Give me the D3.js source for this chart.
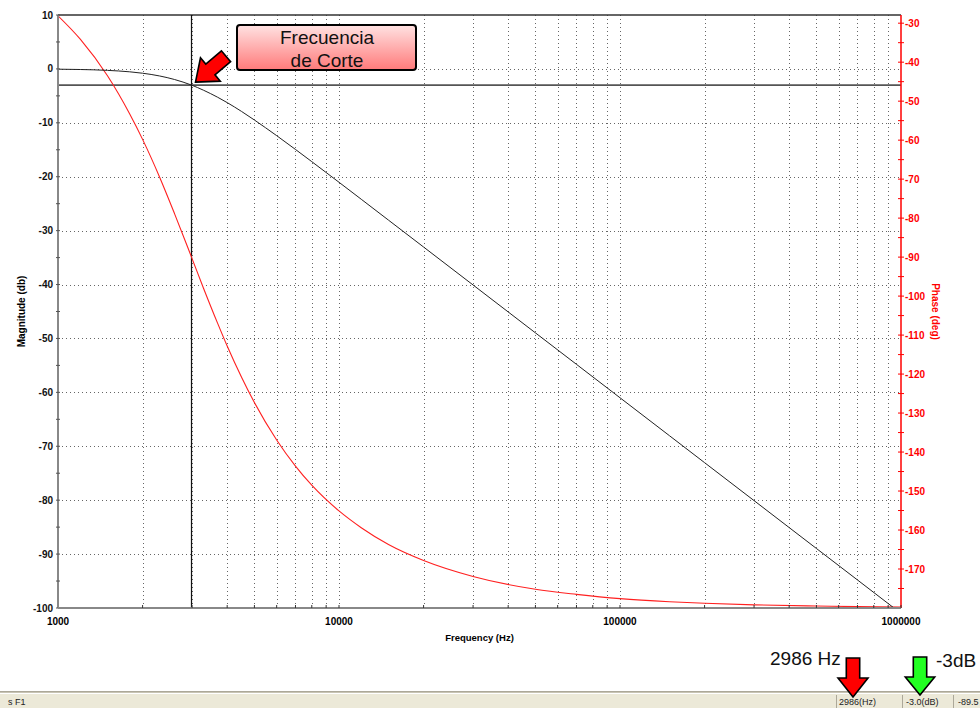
<!DOCTYPE html>
<html>
<head>
<meta charset="utf-8">
<script src="https://cdn.jsdelivr.net/npm/d3@7"></script>
<style>
  html, body { margin: 0; padding: 0; background: #fff; }
  svg { display: block; font-family: "Liberation Sans", Arial, sans-serif; }
</style>
</head>
<body>
<svg id="chart" width="980" height="708"></svg>
<script>
// Bode plot data
const freqHz = [1000, 1200, 1500, 1800, 2000, 2300, 2600, 2986, 3300, 3700, 4000, 4500, 5000, 6000, 7000, 8000,
    10000, 12000, 15000, 20000, 30000, 50000, 70000, 100000, 150000, 200000, 300000, 500000, 700000, 1000000];
const magnitudeDb = [-0.05, -0.11, -0.27, -0.54, -0.8, -1.31, -1.97, -3.0, -3.97, -5.26, -6.25, -7.89, -9.48, -12.38, -14.94, -17.2,
    -21.03, -24.18, -28.05, -33.04, -40.08, -48.96, -54.8, -61.0, -68.04, -73.04, -80.08, -88.96, -94.8, -101.0];
const phaseDeg = [-28.1, -34.1, -43.5, -53.3, -59.8, -69.5, -78.9, -90.0, -98.1, -107.0, -112.8, -120.8, -127.3, -136.9, -143.6, -148.5,
    -155.1, -159.4, -163.7, -167.8, -171.9, -175.2, -176.5, -177.6, -178.4, -178.8, -179.2, -179.5, -179.65, -179.76];

const freqLabels = [1000, 10000, 100000, 1000000];
const magTicks = [10, 0, -10, -20, -30, -40, -50, -60, -70, -80, -90, -100];
const phaseTicks = [-30, -40, -50, -60, -70, -80, -90, -100, -110, -120, -130, -140, -150, -160, -170];

const cutoffHz = 2986;
const cutoffDb = -3;
const statusTexts = ["2986(Hz)", "-3.0(dB)", "-89.5"];

const plotL = 58, plotT = 15, plotR = 901, plotB = 608;

const svg = d3.select("#chart");

const x = d3.scaleLog().domain([1000, 1000000]).range([plotL, plotR]);
const yMag = d3.scaleLinear().domain([-100, 10]).range([plotB, plotT]);
const yPh = d3.scaleLinear().domain([-180, -27.9]).range([plotB, plotT]);

const defs = svg.append("defs");
defs.append("clipPath").attr("id", "plotClip")
    .append("rect").attr("x", plotL).attr("y", plotT).attr("width", plotR - plotL).attr("height", plotB - plotT);

// minor frequency positions 2..9 of each decade plus decades
const gridFreqs = [];
[1000, 10000, 100000].forEach(d => {
    for (let k = 1; k <= 9; k++) if (d * k > 1000) gridFreqs.push(d * k);
});

// Grid
const grid = svg.append("g").attr("shape-rendering", "crispEdges");
grid.selectAll(".vgrid")
    .data(gridFreqs)
    .enter().append("line")
    .attr("x1", d => Math.round(x(d)) + 0.5).attr("x2", d => Math.round(x(d)) + 0.5)
    .attr("y1", plotT).attr("y2", plotB)
    .attr("stroke", "#666").attr("stroke-dasharray", "1,3");
grid.selectAll(".hgrid")
    .data(magTicks.filter(v => v < 10 && v > -100))
    .enter().append("line")
    .attr("x1", plotL).attr("x2", plotR)
    .attr("y1", d => Math.round(yMag(d)) + 0.5).attr("y2", d => Math.round(yMag(d)) + 0.5)
    .attr("stroke", "#666").attr("stroke-dasharray", "1,3");

// Top border
svg.append("line").attr("x1", plotL).attr("x2", plotR).attr("y1", plotT).attr("y2", plotT)
    .attr("stroke", "#333").attr("stroke-width", 1.5);

// Cutoff markers
svg.append("line")
    .attr("x1", plotL).attr("x2", plotR)
    .attr("y1", yMag(cutoffDb)).attr("y2", yMag(cutoffDb))
    .attr("stroke", "#555").attr("stroke-width", 1.6);
svg.append("line")
    .attr("x1", x(cutoffHz)).attr("x2", x(cutoffHz))
    .attr("y1", plotT).attr("y2", plotB)
    .attr("stroke", "#111").attr("stroke-width", 1.2);

// Curves
const curves = svg.append("g").attr("clip-path", "url(#plotClip)");
const pts = freqHz.map((f, i) => ({ f: f, m: magnitudeDb[i], p: phaseDeg[i] }));

curves.append("path")
    .datum(pts)
    .attr("fill", "none").attr("stroke", "#ff2020").attr("stroke-width", 1.1)
    .attr("d", d3.line().x(d => x(d.f)).y(d => yPh(d.p)).curve(d3.curveMonotoneX));

curves.append("path")
    .datum(pts)
    .attr("fill", "none").attr("stroke", "#222").attr("stroke-width", 1)
    .attr("d", d3.line().x(d => x(d.f)).y(d => yMag(d.m)).curve(d3.curveMonotoneX));

// Left axis
svg.append("line").attr("x1", plotL).attr("x2", plotL).attr("y1", plotT).attr("y2", plotB)
    .attr("stroke", "#888").attr("stroke-width", 2);
const magMinor = d3.range(-100, 10.1, 5);
svg.selectAll(".magTick").data(magMinor).enter().append("line")
    .attr("x1", plotL - 2).attr("x2", plotL + 2)
    .attr("y1", d => yMag(d)).attr("y2", d => yMag(d))
    .attr("stroke", "#555");
svg.selectAll(".magLabel").data(magTicks).enter().append("text")
    .attr("x", 53).attr("y", d => yMag(d)).attr("dy", "0.35em")
    .attr("text-anchor", "end").attr("font-size", 10).attr("font-weight", "bold")
    .attr("fill", "#111").text(d => d);
svg.append("text")
    .attr("transform", `translate(25,${(plotT + plotB) / 2}) rotate(-90)`)
    .attr("text-anchor", "middle").attr("font-size", 10).attr("font-weight", "bold")
    .text("Magnitude (db)");

// Right axis (phase)
svg.append("line").attr("x1", plotR).attr("x2", plotR).attr("y1", plotT).attr("y2", plotB)
    .attr("stroke", "#ff0000").attr("stroke-width", 1.5);
svg.selectAll(".phTick").data(d3.range(-175, -29, 5)).enter().append("line")
    .attr("x1", plotR - 3).attr("x2", plotR + 3)
    .attr("y1", d => yPh(d)).attr("y2", d => yPh(d))
    .attr("stroke", "#ff0000");
svg.selectAll(".phLabel").data(phaseTicks).enter().append("text")
    .attr("x", 905).attr("y", d => yPh(d)).attr("dy", "0.35em")
    .attr("font-size", 10).attr("font-weight", "bold")
    .attr("fill", "#ff0000").text(d => d);
svg.append("text")
    .attr("transform", `translate(932,${(plotT + plotB) / 2}) rotate(90)`)
    .attr("text-anchor", "middle").attr("font-size", 10).attr("font-weight", "bold")
    .attr("fill", "#ff0000").text("Phase (deg)");

// Bottom axis
svg.append("line").attr("x1", plotL).attr("x2", plotR).attr("y1", plotB).attr("y2", plotB)
    .attr("stroke", "#888").attr("stroke-width", 2);
svg.selectAll(".fTick").data(gridFreqs.concat([1000000])).enter().append("line")
    .attr("x1", d => x(d)).attr("x2", d => x(d))
    .attr("y1", plotB - 3).attr("y2", plotB)
    .attr("stroke", "#333");
svg.selectAll(".fLabel").data(freqLabels).enter().append("text")
    .attr("x", d => x(d)).attr("y", 625)
    .attr("text-anchor", "middle").attr("font-size", 10).attr("font-weight", "bold")
    .text(d => d);
svg.append("text")
    .attr("x", (plotL + plotR) / 2).attr("y", 641)
    .attr("text-anchor", "middle").attr("font-size", 9.5).attr("font-weight", "bold")
    .text("Frequency (Hz)");

// Block arrow helper: tip at (tx,ty), pointing along angle (deg)
function blockArrow(tx, ty, angle, fill, len, headLen, headHalf, shaftHalf) {
    const p = [[0, 0], [-headLen, -headHalf], [-headLen, -shaftHalf], [-len, -shaftHalf],
        [-len, shaftHalf], [-headLen, shaftHalf], [-headLen, headHalf]];
    svg.append("path")
        .attr("d", "M" + p.map(q => q.join(",")).join("L") + "Z")
        .attr("transform", `translate(${tx},${ty}) rotate(${angle})`)
        .attr("fill", fill).attr("stroke", "#000").attr("stroke-width", 1.6)
        .attr("stroke-linejoin", "miter");
}

// Annotation box
const grad = defs.append("linearGradient").attr("id", "boxGrad")
    .attr("x1", 0).attr("y1", 0).attr("x2", 0).attr("y2", 1);
grad.append("stop").attr("offset", "0%").attr("stop-color", "#ffe2e2");
grad.append("stop").attr("offset", "100%").attr("stop-color", "#ff7a7a");

svg.append("rect")
    .attr("x", 237).attr("y", 25).attr("width", 179).attr("height", 45).attr("rx", 3)
    .attr("fill", "url(#boxGrad)").attr("stroke", "#000").attr("stroke-width", 2);
svg.append("text").attr("x", 327).attr("y", 44).attr("text-anchor", "middle")
    .attr("font-size", 19).attr("fill", "#111").text("Frecuencia");
svg.append("text").attr("x", 327).attr("y", 67).attr("text-anchor", "middle")
    .attr("font-size", 19).attr("fill", "#111").text("de Corte");

blockArrow(x(cutoffHz) + 4, yMag(cutoffDb) - 3, 139.7, "#ff0000", 40, 19.5, 15.3, 7.1);

// Status bar
svg.append("rect").attr("x", 0).attr("y", 692).attr("width", 980).attr("height", 16).attr("fill", "#ece9d8");
svg.append("line").attr("x1", 0).attr("x2", 980).attr("y1", 691.5).attr("y2", 691.5).attr("stroke", "#aca899");
svg.append("line").attr("x1", 0).attr("x2", 980).attr("y1", 692.5).attr("y2", 692.5).attr("stroke", "#c8c4b4");
svg.append("line").attr("x1", 0).attr("x2", 980).attr("y1", 693.5).attr("y2", 693.5).attr("stroke", "#ffffff");
[836.5, 902.5, 953.5].forEach(px => {
    svg.append("line").attr("x1", px).attr("x2", px).attr("y1", 695).attr("y2", 708).attr("stroke", "#aca899");
});
svg.append("text").attr("x", 8).attr("y", 705).attr("font-size", 9).attr("fill", "#222").text("s F1");
svg.selectAll(".status").data(statusTexts).enter().append("text")
    .attr("x", (d, i) => [839, 906, 958][i]).attr("y", 705)
    .attr("font-size", 9).attr("fill", "#222").text(d => d);

// Callouts over the status bar
svg.append("text").attr("x", 770).attr("y", 665).attr("font-size", 19).attr("fill", "#111").text("2986 Hz");
svg.append("text").attr("x", 936).attr("y", 667).attr("font-size", 19).attr("fill", "#111").text("-3dB");
blockArrow(853, 697, 90, "#ff0000", 39, 19, 15, 6.7);
blockArrow(920, 695, 90, "#22ff22", 38, 18, 14.7, 6.7);
</script>
</body>
</html>
